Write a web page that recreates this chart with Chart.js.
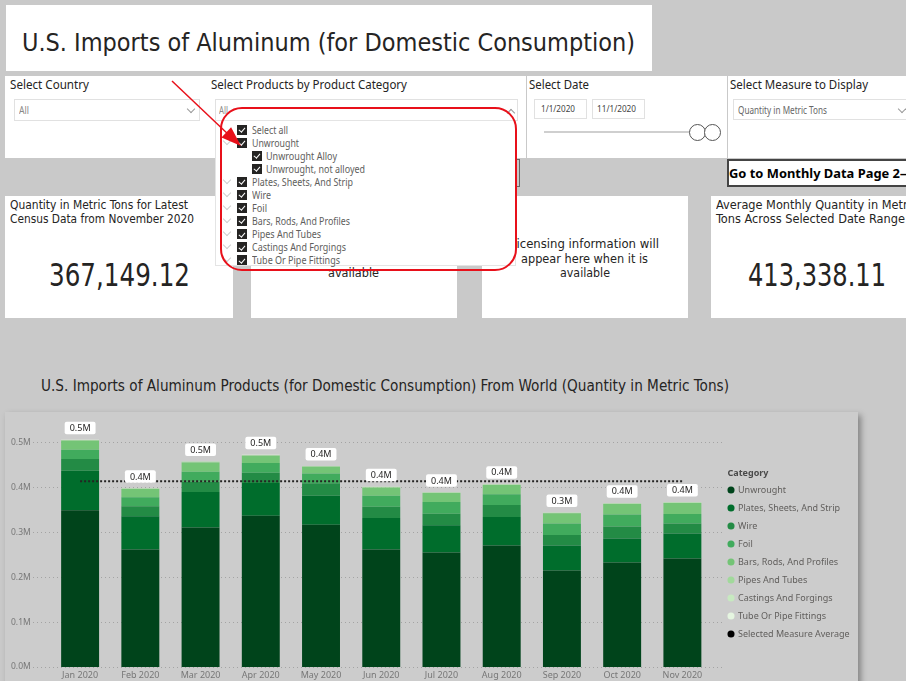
<!DOCTYPE html>
<html>
<head>
<meta charset="utf-8">
<script src="https://cdn.jsdelivr.net/npm/chart.js@4.4.0/dist/chart.umd.min.js"></script>
<style>
html,body{margin:0;padding:0;}
body{width:906px;height:681px;overflow:hidden;background:#c9c9c9;position:relative;font-family:'Segoe UI','Noto Sans',sans-serif;}
.panel{position:absolute;background:#fff;}
.t{position:absolute;white-space:nowrap;line-height:1;transform-origin:0 50%;}
.box{position:absolute;border:1px solid #e1e1e1;background:#fff;box-sizing:border-box;}
.chev{position:absolute;width:5px;height:5px;border-right:1px solid #9a9a9a;border-bottom:1px solid #9a9a9a;transform:rotate(45deg);}
.cb{position:absolute;width:10px;height:10px;background:#252423;z-index:6;}
.cb::after{content:'';position:absolute;left:3.3px;top:1.2px;width:2.5px;height:5px;border-right:1.3px solid #fff;border-bottom:1.3px solid #fff;transform:rotate(40deg);}
</style>
</head>
<body>
<!-- header and slicers -->
<div class="panel" style="left:6px;top:5px;width:646px;height:66px"></div>
<div class="panel" style="left:5px;top:76px;width:521px;height:82px"></div>
<div class="panel" style="left:527px;top:76px;width:200px;height:82px"></div>
<div class="panel" style="left:728px;top:76px;width:200px;height:82px"></div>
<div class="box" style="left:14px;top:99px;width:186px;height:22px"></div>
<div class="chev" style="left:188px;top:106px"></div>
<div class="box" style="left:215px;top:99px;width:303px;height:22px"></div>
<div class="chev" style="left:508px;top:110px;transform:rotate(225deg)"></div>
<div class="box" style="left:534px;top:99px;width:53px;height:20px"></div>
<div class="box" style="left:592px;top:99px;width:53px;height:20px"></div>
<div style="position:absolute;left:544px;top:131px;width:146px;height:2px;background:#cfcfcf"></div>
<div style="position:absolute;left:689px;top:123.5px;width:17px;height:17px;border-radius:50%;border:1.3px solid #555;background:#fff;box-sizing:border-box"></div>
<div style="position:absolute;left:703.5px;top:123.5px;width:17px;height:17px;border-radius:50%;border:1.3px solid #555;background:#fff;box-sizing:border-box"></div>
<div class="box" style="left:733px;top:99px;width:190px;height:21px"></div>
<div class="chev" style="left:899px;top:106px"></div>
<!-- buttons -->
<div style="position:absolute;left:440px;top:159px;width:80px;height:28px;border:1.5px solid #666;box-sizing:border-box;z-index:1"></div>
<div style="position:absolute;left:727px;top:159px;width:200px;height:28px;border:2px solid #444;background:#fff;box-sizing:border-box;z-index:1"></div>
<!-- cards -->
<div class="panel" style="left:5px;top:196px;width:228px;height:122px"></div>
<div class="panel" style="left:251px;top:196px;width:206px;height:122px"></div>
<div class="panel" style="left:482px;top:196px;width:206px;height:122px"></div>
<div class="panel" style="left:711px;top:196px;width:220px;height:122px"></div>
<!-- chart panel -->
<div style="position:absolute;left:5px;top:412px;width:853px;height:290px;background:#cccccc;box-shadow:3px 3px 6px rgba(0,0,0,0.35);z-index:1"></div>
<div style="position:absolute;left:5px;top:412px;width:900px;height:269px;z-index:2"><canvas id="c" width="900" height="269"></canvas></div>
<!-- dropdown overlay -->
<div id="dd" style="position:absolute;left:215px;top:120px;width:301px;height:146px;background:#fff;border:1px solid #e4e4e4;box-sizing:border-box;z-index:5"></div>
<div style="position:absolute;left:220px;top:107px;width:297px;height:164px;border:2.5px solid #e8101a;border-radius:22px;box-sizing:border-box;z-index:8"></div>
<svg style="position:absolute;left:0;top:0;z-index:9" width="906" height="681">
  <line x1="172" y1="81" x2="230" y2="136" stroke="#e8101a" stroke-width="1.5"/>
  <polygon points="241,146 221.5,137.5 231.1,127.3" fill="#e8101a"/>
</svg>

<script>
// ---------------- chart data ----------------
const months = ['Jan 2020','Feb 2020','Mar 2020','Apr 2020','May 2020','Jun 2020','Jul 2020','Aug 2020','Sep 2020','Oct 2020','Nov 2020'];
const categoryNames = ['Unwrought','Plates, Sheets, And Strip','Wire','Foil','Bars, Rods, And Profiles','Pipes And Tubes','Castings And Forgings','Tube Or Pipe Fittings'];
const unwrought         = [348900,261500,310400,337000,317000,261500,254800,270400,214800,232600,241500];
const platesSheetsStrip = [88100,74100,79200,72600,64500,70400,60800,63600,55600,53300,55500];
const wire              = [26000,22200,23000,23000,27400,25100,25900,26700,23600,26700,22300];
const foil              = [20700,20000,22200,21400,22200,24500,25900,23700,25300,26700,21400];
const barsRodsProfiles  = [20000,18500,20800,16400,14800,17800,20000,20800,22900,23700,24500];
const pipesTubes        = [1500,1200,1400,1300,1300,1400,1200,1300,1100,1300,1300];
const castingsForgings  = [500,400,450,450,400,450,400,450,380,420,450];
const tubePipeFittings  = [200,180,190,210,170,190,200,190,160,180,199];
const selectedMeasureAverage = [413338.11,413338.11,413338.11,413338.11,413338.11,413338.11,413338.11,413338.11,413338.11,413338.11,413338.11];
const averageLabel = 'Selected Measure Average';
const yTickValues = [0,100000,200000,300000,400000,500000];

// ---------------- page texts ----------------
const D = "'DejaVu Sans Condensed','Liberation Sans Narrow','Roboto Condensed','Roboto',sans-serif";
const U = "'Segoe UI','Noto Sans','Open Sans',sans-serif";
const texts = [
  ['U.S. Imports of Aluminum (for Domestic Consumption)', 22, 42, 25, 613, D, '#252423', 400, 2],
  ['Select Country', 10, 85, 12, 79, U, '#252423', 400, 2],
  ['Select Products by Product Category', 211, 85, 12, 196, U, '#252423', 400, 2],
  ['Select Date', 529, 85, 12, 60, U, '#252423', 400, 2],
  ['Select Measure to Display', 730, 85, 12, 138, U, '#252423', 400, 2],
  ['All', 19, 110, 10, 10, U, '#8a8886', 400, 2],
  ['All', 219, 110, 10, 9, U, '#8a8886', 400, 2],
  ['1/1/2020', 541, 109, 9.5, 34, U, '#444', 400, 2],
  ['11/1/2020', 597, 109, 9.5, 39, U, '#444', 400, 2],
  ['Quantity in Metric Tons', 738, 110, 10, 89, U, '#666', 400, 2],
  ['Go to Monthly Data Page 2', 729, 173, 13, 171, U, '#000', 700, 3],
  ['\u2014', 900, 173, 13, 8, U, '#000', 700, 3],
  ['Quantity in Metric Tons for Latest', 10, 205, 12.5, 178, D, '#252423', 400, 2],
  ['Census Data from November 2020', 10, 219, 12.5, 184, D, '#252423', 400, 2],
  ['367,149.12', 49, 275, 32, 141, D, '#252423', 400, 2],
  ['Licensing information will', 279, 243, 13, 149, D, '#252423', 400, 2],
  ['appear here when it is', 290, 258, 13, 127, D, '#252423', 400, 2],
  ['available', 328, 272, 13, 51, D, '#252423', 400, 2],
  ['Licensing information will', 510, 243, 13, 149, D, '#252423', 400, 2],
  ['appear here when it is', 521, 258, 13, 127, D, '#252423', 400, 2],
  ['available', 560, 272, 13, 50, D, '#252423', 400, 2],
  ['Average Monthly Quantity in Metric', 716, 205, 12.5, 201, D, '#252423', 400, 2],
  ['Tons Across Selected Date Range', 716, 219, 12.5, 189, D, '#252423', 400, 2],
  ['413,338.11', 748, 275, 32, 138, D, '#252423', 400, 2],
  ['U.S. Imports of Aluminum Products (for Domestic Consumption) From World (Quantity in Metric Tons)', 41, 386, 15, 688, D, '#252423', 400, 2]
];
const ddRows = [
  ['Select all', 0, false, 36], ['Unwrought', 0, true, 47], ['Unwrought Alloy', 1, false, 71],
  ['Unwrought, not alloyed', 1, false, 99], ['Plates, Sheets, And Strip', 0, true, 101],
  ['Wire', 0, true, 19], ['Foil', 0, true, 15], ['Bars, Rods, And Profiles', 0, true, 98],
  ['Pipes And Tubes', 0, true, 69], ['Castings And Forgings', 0, true, 94], ['Tube Or Pipe Fittings', 0, true, 88]
];
ddRows.forEach((r, i) => {
  const cy = 130 + 13.04 * i;
  const cb = document.createElement('div');
  cb.className = 'cb';
  cb.style.left = (r[1] ? 251.5 : 236.5) + 'px';
  cb.style.top = (cy - 5) + 'px';
  document.body.appendChild(cb);
  if (r[2]) {
    const ch = document.createElement('div');
    ch.className = 'chev';
    ch.style.cssText += 'left:224px;top:' + (cy - 5) + 'px;border-color:#cfcfcf;z-index:6';
    document.body.appendChild(ch);
  }
  texts.push([r[0], r[1] ? 266 : 252, cy, 10, r[3], U, '#605e5c', 400, 6]);
});
texts.forEach(t => {
  const s = document.createElement('span');
  s.className = 't';
  s.textContent = t[0];
  s.style.left = t[1] + 'px';
  s.style.top = (t[2] - t[3] / 2) + 'px';
  s.style.fontSize = t[3] + 'px';
  s.style.fontFamily = t[5];
  s.style.color = t[6];
  s.style.fontWeight = t[7];
  s.style.zIndex = t[8];
  document.body.appendChild(s);
  const w = s.getBoundingClientRect().width;
  if (w > 0) s.style.transform = 'scaleX(' + (t[4] / w) + ')';
});

// ---------------- chart ----------------
const colors = ['#00441b','#006d2c','#238b45','#41ab5d','#74c476','#a1d99b','#c7e9c0','#e5f5e0'];
const seriesValues = [unwrought, platesSheetsStrip, wire, foil, barsRodsProfiles, pipesTubes, castingsForgings, tubePipeFittings];
const FONT = "'Segoe UI','Noto Sans',sans-serif";
Chart.defaults.font.family = FONT;

const legendFontSize = 9;
const legendPad = 9;
const legendBox = 5;
const mctx = document.createElement('canvas').getContext('2d');
mctx.font = legendFontSize + 'px ' + FONT;
const labelW = Math.max(...categoryNames.concat([averageLabel]).map(s => mctx.measureText(s).width));
const legendLeft = 714.5;
const legendWidth = legendPad + legendBox + legendFontSize / 2 + labelW + 10;
const padRight = Math.max(0, 900 - legendLeft - legendWidth);

const datasets = seriesValues.map((vals, i) => ({
  type: 'bar',
  label: categoryNames[i],
  data: vals,
  backgroundColor: colors[i],
  borderWidth: 0,
  stack: 'products',
  categoryPercentage: 1,
  barPercentage: 0.63,
  order: 0
}));
datasets.push({
  type: 'line',
  label: averageLabel,
  data: selectedMeasureAverage,
  borderColor: '#252423',
  backgroundColor: '#000',
  borderWidth: 2,
  borderDash: [2, 2],
  pointRadius: 0,
  fill: false,
  stack: 'avg',
  order: -1
});

const dottedGrid = {
  id: 'dottedGrid',
  beforeDatasetsDraw(chart) {
    const {ctx, chartArea, scales: {y}} = chart;
    ctx.save();
    ctx.strokeStyle = '#a3a3a3';
    ctx.lineWidth = 1;
    ctx.setLineDash([1, 3]);
    y.ticks.forEach(t => {
      const py = Math.round(y.getPixelForValue(t.value)) + 0.5;
      ctx.beginPath();
      ctx.moveTo(chartArea.left - 17, py);
      ctx.lineTo(chartArea.right + 12, py);
      ctx.stroke();
    });
    ctx.restore();
  }
};
const totalLabels = {
  id: 'totalLabels',
  afterDatasetsDraw(chart) {
    const {ctx} = chart;
    const n = seriesValues.length;
    const topMeta = chart.getDatasetMeta(n - 1);
    ctx.save();
    ctx.font = '9px ' + FONT;
    ctx.textAlign = 'center';
    ctx.textBaseline = 'middle';
    months.forEach((m, i) => {
      let total = 0;
      seriesValues.forEach(s => total += s[i]);
      const el = topMeta.data[i];
      const txt = (total / 1e6).toFixed(1) + 'M';
      const w = ctx.measureText(txt).width + 10;
      const h = 12.5;
      const bx = el.x - w / 2, by = el.y - 5.5 - h;
      ctx.fillStyle = '#ffffff';
      ctx.beginPath();
      ctx.roundRect(bx, by, w, h, 2);
      ctx.fill();
      ctx.fillStyle = '#252423';
      ctx.fillText(txt, el.x, by + h / 2 + 0.5);
    });
    ctx.restore();
  }
};
const legendTitle = {
  id: 'legendTitle',
  afterDraw(chart) {
    const lg = chart.legend;
    if (!lg || !lg.legendHitBoxes || !lg.legendHitBoxes.length) return;
    const hb = lg.legendHitBoxes[0];
    const ctx = chart.ctx;
    ctx.save();
    ctx.font = 'bold 9px ' + FONT;
    ctx.fillStyle = '#4a4a4a';
    ctx.textBaseline = 'middle';
    ctx.textAlign = 'left';
    ctx.fillText('Category', hb.left - 1, hb.top + legendFontSize / 2 - 17);
    ctx.restore();
  }
};

new Chart(document.getElementById('c'), {
  data: {labels: months, datasets},
  options: {
    responsive: false,
    animation: false,
    events: [],
    layout: {padding: {left: 6, top: 8, bottom: 0, right: padRight}},
    scales: {
      x: {
        type: 'category',
        stacked: true,
        grid: {display: false, drawTicks: false},
        border: {display: false},
        ticks: {font: {size: 9}, color: '#777', padding: 3, autoSkip: false, maxRotation: 0},
        afterFit(s) { s.height = 14; }
      },
      y: {
        type: 'linear',
        stacked: true,
        min: 0,
        max: 550000,
        grid: {display: false, drawTicks: false},
        border: {display: false},
        ticks: {font: {size: 8.5}, color: '#777', padding: 0, crossAlign: 'far', callback: v => (v / 1e6).toFixed(1) + 'M'},
        afterBuildTicks(s) { s.ticks = yTickValues.map(v => ({value: v})); },
        afterFit(s) { s.width = 39; }
      },
      yGap: {
        type: 'linear',
        position: 'right',
        display: true,
        grid: {display: false, drawTicks: false},
        border: {display: false},
        ticks: {display: false, padding: 0},
        afterFit(s) { s.width = 7; }
      }
    },
    plugins: {
      tooltip: {enabled: false},
      legend: {
        position: 'right',
        align: 'center',
        title: {display: true, text: 'Category', color: 'rgba(0,0,0,0)', font: {size: 9, weight: 'bold'}, padding: {top: 0, bottom: 12.2}},
        labels: {
          usePointStyle: true,
          pointStyle: 'circle',
          boxWidth: legendBox,
          boxHeight: legendBox,
          padding: legendPad,
          color: '#605e5c',
          font: {size: legendFontSize},
          generateLabels(chart) {
            const items = Chart.defaults.plugins.legend.labels.generateLabels(chart);
            return items.map(it => Object.assign(it, {lineWidth: 0, strokeStyle: it.fillStyle, lineDash: []}))
                        .sort((a, b) => a.datasetIndex - b.datasetIndex);
          }
        }
      }
    }
  },
  plugins: [dottedGrid, totalLabels, legendTitle]
});
</script>
</body>
</html>
